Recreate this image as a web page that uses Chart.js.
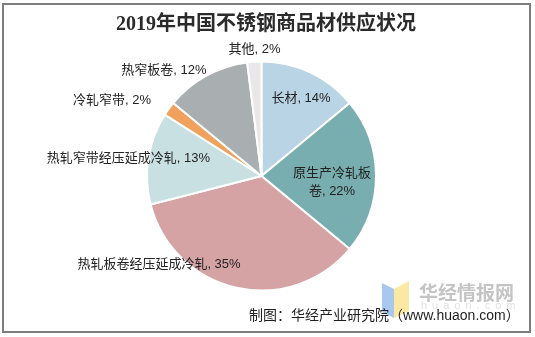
<!DOCTYPE html>
<html>
<head>
<meta charset="utf-8">
<script src="https://cdn.jsdelivr.net/npm/chart.js"></script>
<style>
  html, body { margin: 0; padding: 0; background: #fff; }
  canvas { display: block; }
</style>
</head>
<body>
<canvas id="supplyChart" width="535" height="337"></canvas>
<script>
const title = '2019年中国不锈钢商品材供应状况';
const categories = ['长材', '原生产冷轧板卷', '热轧板卷经压延成冷轧', '热轧窄带经压延成冷轧', '冷轧窄带', '热窄板卷', '其他'];
const shares = [14, 22, 35, 13, 2, 12, 2];
const source = '制图：华经产业研究院（www.huaon.com）';

const sliceColors = ['#b9d4e4', '#79aeb0', '#d6a3a4', '#c9e0e2', '#f0a15c', '#a9aeb1', '#e8e8ea'];
// where each label sits, relative to the pie centre in units of radius
const labelSpots = [[0.345, -0.681], [0.616, 0.057], [-0.895, 0.769], [-1.162, -0.157], [-1.306, -0.664], [-0.852, -0.926], [-0.061, -1.109]];
const wrapAt = [0, 6, 0, 0, 0, 0, 0];

const labelFont = '13px "Liberation Sans", "Noto Sans CJK SC", sans-serif';

const decorations = {
    id: 'decorations',
    afterDraw(chart) {
        const ctx = chart.ctx;
        const meta = chart.getDatasetMeta(0);
        const arc = meta.data[0];
        const cx = arc.x, cy = arc.y, r = arc.outerRadius;

        ctx.save();
        // frame
        ctx.strokeStyle = '#7d7d7d';
        ctx.lineWidth = 2;
        ctx.strokeRect(3, 4, 527, 328);

        // title
        ctx.fillStyle = '#2b2b2b';
        ctx.textAlign = 'center';
        ctx.textBaseline = 'middle';
        ctx.font = 'bold 20px "Liberation Serif", "Noto Sans CJK SC", serif';
        ctx.fillText(title, 266, 25);

        // slice labels
        ctx.font = labelFont;
        ctx.fillStyle = '#222';
        categories.forEach((cat, i) => {
            const text = cat + ', ' + shares[i] + '%';
            const x = cx + labelSpots[i][0] * r;
            const y = cy + labelSpots[i][1] * r;
            if (wrapAt[i]) {
                ctx.fillText(text.slice(0, wrapAt[i]), x, y - 9);
                ctx.fillText(text.slice(wrapAt[i]), x, y + 9);
            } else {
                ctx.fillText(text, x, y);
            }
        });

        // watermark logo
        ctx.fillStyle = '#a9c8ef';
        ctx.beginPath();
        ctx.moveTo(382, 283); ctx.lineTo(394, 289); ctx.lineTo(394, 318); ctx.lineTo(382, 312);
        ctx.closePath(); ctx.fill();
        ctx.fillStyle = '#fbe8a2';
        ctx.beginPath();
        ctx.moveTo(394, 289); ctx.lineTo(409, 281); ctx.lineTo(409, 311); ctx.lineTo(394, 318);
        ctx.closePath(); ctx.fill();

        ctx.textAlign = 'left';
        ctx.fillStyle = '#c4c4c4';
        ctx.font = 'bold 19px "Noto Sans CJK SC", sans-serif';
        ctx.fillText('华经情报网', 419, 293);
        ctx.fillStyle = '#e2e2e2';
        ctx.font = '11px "Liberation Sans", sans-serif';
        ctx.letterSpacing = '5px';
        ctx.fillText('huaon.com', 421, 306);
        ctx.letterSpacing = '0px';

        // source line
        ctx.fillStyle = '#1e1e1e';
        ctx.font = '14px "Liberation Sans", "Noto Sans CJK SC", sans-serif';
        ctx.fillText(source, 249, 316);
        ctx.restore();
    }
};

new Chart(document.getElementById('supplyChart'), {
    type: 'pie',
    data: {
        labels: categories,
        datasets: [{
            data: shares,
            backgroundColor: sliceColors,
            borderColor: '#ffffff',
            borderWidth: 2
        }]
    },
    options: {
        responsive: false,
        animation: false,
        layout: {
            padding: { left: 146, right: 158, top: 60.5, bottom: 45.5 }
        },
        plugins: {
            legend: { display: false },
            tooltip: { enabled: false }
        }
    },
    plugins: [decorations]
});
</script>
</body>
</html>
